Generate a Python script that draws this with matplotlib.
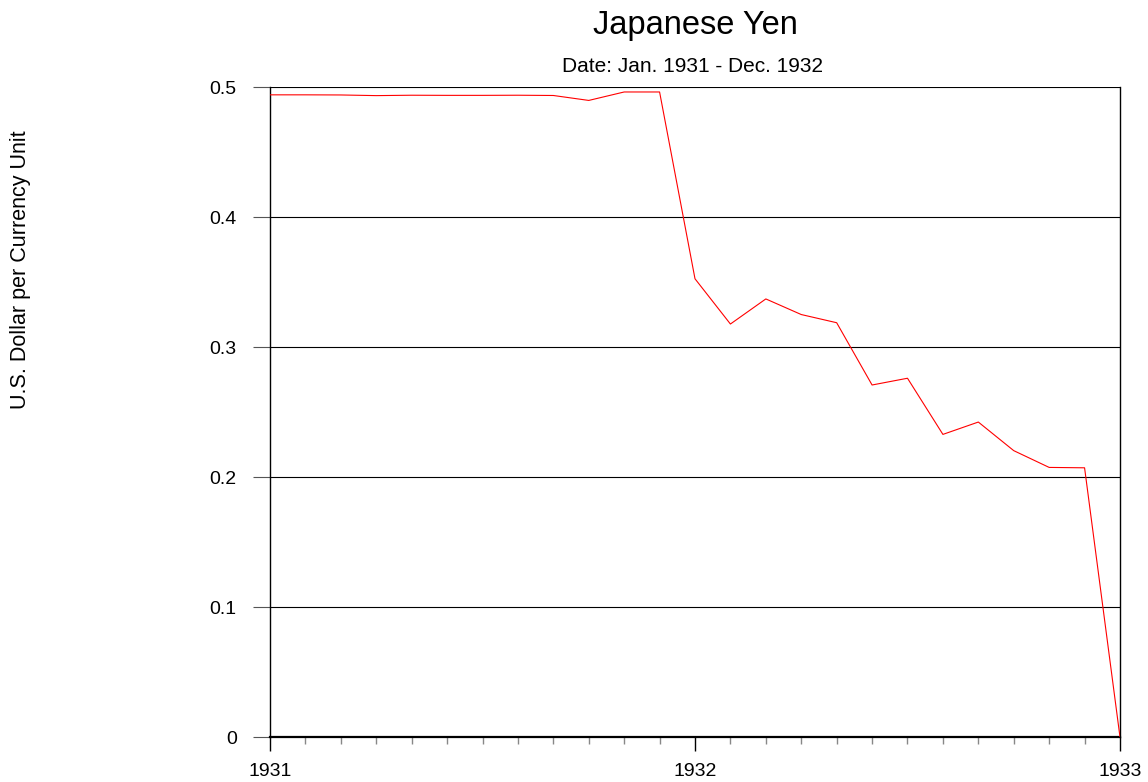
import matplotlib.pyplot as plt
from matplotlib.ticker import MultipleLocator

plt.rcParams['font.family'] = ['Liberation Sans', 'DejaVu Sans']

# monthly values, Jan 1931 .. Jan 1933
months = list(range(25))
yen = [0.4940, 0.4940, 0.4939, 0.4934, 0.4937, 0.4936, 0.4936, 0.4937,
       0.4935, 0.4897, 0.4962, 0.4962, 0.3525, 0.3177, 0.3370, 0.3250,
       0.3187, 0.2708, 0.2760, 0.2328, 0.2423, 0.2203, 0.2074, 0.2071, 0.0]
year_ticks = [0, 12, 24]
year_labels = ['1931', '1932', '1933']
y_ticks = [0, 0.1, 0.2, 0.3, 0.4, 0.5]
y_labels = ['0', '0.1', '0.2', '0.3', '0.4', '0.5']

fig = plt.figure(figsize=(11.48, 7.82), dpi=100)
ax = fig.add_axes([0.2352, 0.0575, 0.7404, 0.8312])

ax.plot(months, yen, color='#ff0000', linewidth=0.8, zorder=3)

ax.set_xlim(0, 24)
ax.set_ylim(0, 0.5)
ax.set_xticks(year_ticks)
ax.set_xticklabels(year_labels)
ax.xaxis.set_minor_locator(MultipleLocator(1))
ax.set_yticks(y_ticks)
ax.set_yticklabels(y_labels)

ax.grid(axis='y', color='black', linewidth=0.8)
ax.tick_params(axis='y', length=12, width=0.8, labelsize=14, pad=12, color='#555555')
ax.tick_params(axis='x', which='major', direction='out', length=10, width=1,
               labelsize=14, pad=9)
ax.tick_params(axis='x', which='minor', direction='out', length=5, width=1,
               color='#888888')

for side in ['left', 'right']:
    ax.spines[side].set_linewidth(1)
ax.spines['bottom'].set_linewidth(1.6)
ax.spines['top'].set_visible(False)

fig.text(0.6054, 0.968, 'Japanese Yen', ha='center', va='center', fontsize=23.5)
fig.text(0.6032, 0.915, 'Date: Jan. 1931 - Dec. 1932', ha='center', va='center',
         fontsize=15)
fig.text(0.018, 0.655, 'U.S. Dollar per Currency Unit', ha='center', va='center',
         rotation=90, fontsize=15.5)

fig.savefig('out.png', dpi=100)
